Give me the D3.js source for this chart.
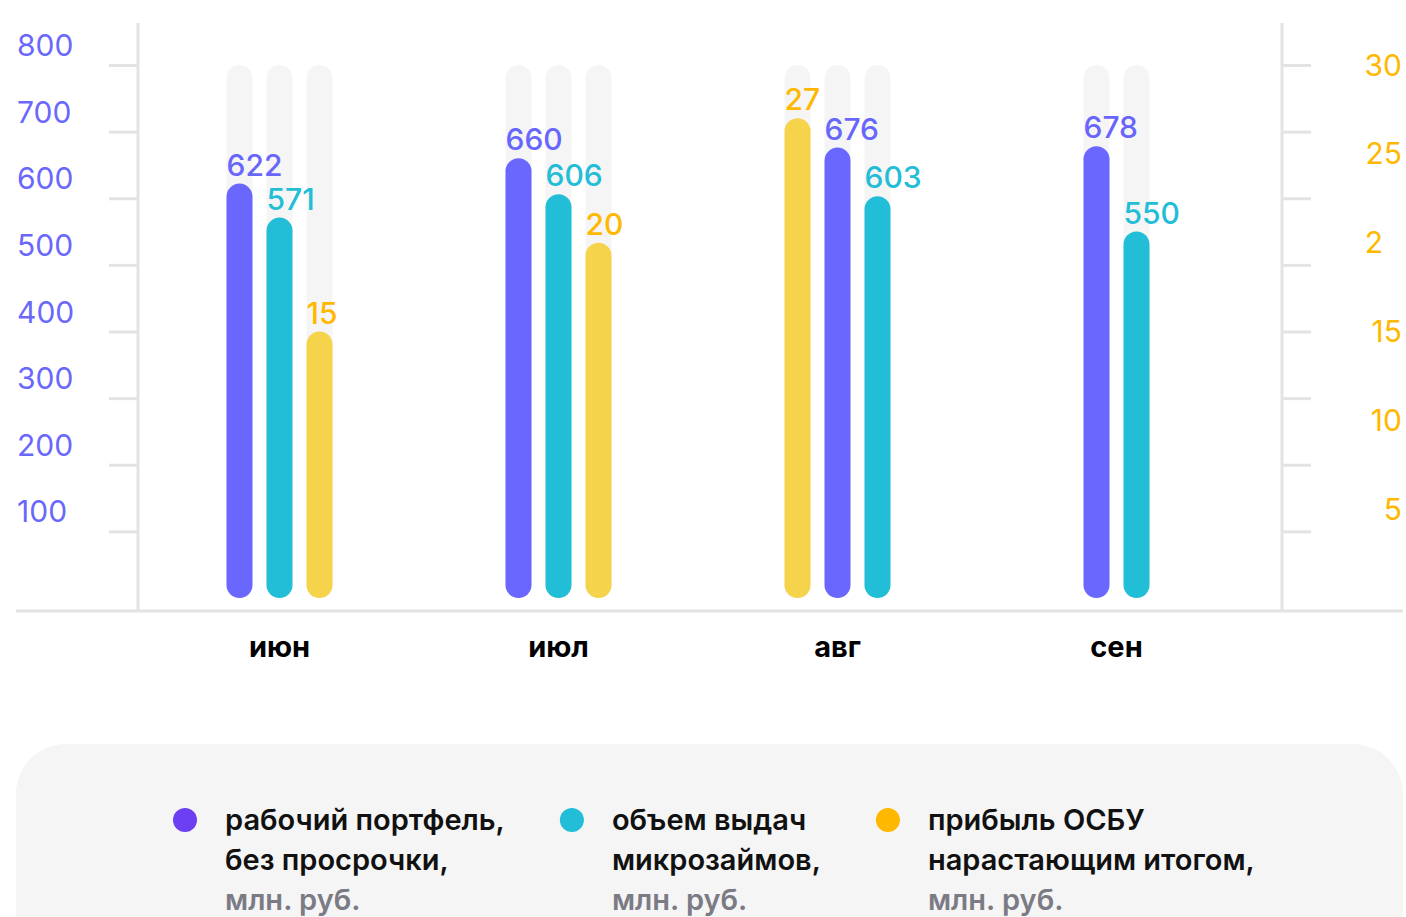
<!DOCTYPE html>
<html>
<head>
<meta charset="utf-8">
<script src="https://cdn.jsdelivr.net/npm/d3@7"></script>
<style>
    body { margin: 0; background: #fff; }
    svg { display: block; font-family: Inter, "Noto Sans", sans-serif; }
</style>
</head>
<body>
<svg id="chart" width="1406" height="917"></svg>
<script>
var months = ["июн", "июл", "авг", "сен"];
var portfolio = [622, 660, 676, 678];
var issuance = [571, 606, 603, 550];
var profit = [15, 20, 27, null];

// order of the bars inside each month
var barOrder = [
    ["portfolio", "issuance", "profit"],
    ["portfolio", "issuance", "profit"],
    ["profit", "portfolio", "issuance"],
    ["portfolio", "issuance"]
];

var leftTicks = [100, 200, 300, 400, 500, 600, 700, 800];
var rightTicks = [5, 10, 15, 20, 25, 30];
var rightTickLabels = ["5", "10", "15", "2", "25", "30"];

var legendNames = [
    ["рабочий портфель,", "без просрочки,"],
    ["объем выдач", "микрозаймов,"],
    ["прибыль ОСБУ", "нарастающим итогом,"]
];
var unitLabel = "млн. руб.";

var svg = d3.select("#chart");

var yLeft = d3.scaleLinear().domain([0, 800]).range([598, 65]);
var yRight = d3.scaleLinear().domain([0, 30]).range([598, 65]);
var x = d3.scaleBand().domain(months).range([140, 1256]);

var series = {
    portfolio: { values: portfolio, y: yLeft, bar: "#6a67ff", text: "#6866fb", dot: "#6c3ff3" },
    issuance: { values: issuance, y: yLeft, bar: "#22bdd6", text: "#22bdd6", dot: "#22bdd6" },
    profit: { values: profit, y: yRight, bar: "#f5d34a", text: "#ffb800", dot: "#ffb800" }
};

var gridColor = "#e3e3e3";
var barWidth = 26,
    barStep = 40;

// frame lines
svg.append("line")
    .attr("x1", 138).attr("x2", 138).attr("y1", 23).attr("y2", 611)
    .attr("stroke", gridColor).attr("stroke-width", 3);
svg.append("line")
    .attr("x1", 1282).attr("x2", 1282).attr("y1", 23).attr("y2", 611)
    .attr("stroke", gridColor).attr("stroke-width", 3);
svg.append("line")
    .attr("x1", 16).attr("x2", 1403).attr("y1", 611).attr("y2", 611)
    .attr("stroke", gridColor).attr("stroke-width", 3);

// left axis
var leftAxis = svg.append("g")
    .attr("transform", "translate(137,0)")
    .call(d3.axisLeft(yLeft).tickValues(leftTicks).tickSize(28));
leftAxis.attr("font-family", null).attr("font-size", 30);
leftAxis.select(".domain").remove();
leftAxis.selectAll(".tick line").attr("stroke", gridColor).attr("stroke-width", 3);
leftAxis.selectAll(".tick text")
    .attr("x", -120)
    .attr("y", -20)
    .attr("dy", "0.35em")
    .attr("text-anchor", "start")
    .attr("fill", "#6a68fb");

// right axis: tick marks follow the left scale, labels the right one
var rightAxis = svg.append("g")
    .attr("transform", "translate(1283,0)")
    .call(d3.axisRight(yLeft).tickValues(leftTicks).tickSize(28).tickFormat(""));
rightAxis.select(".domain").remove();
rightAxis.selectAll(".tick line").attr("stroke", gridColor).attr("stroke-width", 3);

svg.append("g")
    .attr("font-size", 30)
    .attr("fill", "#ffb800")
    .selectAll("text")
    .data(rightTicks)
    .join("text")
    .attr("y", function (d) { return yRight(d); })
    .attr("dy", "0.35em")
    .text(function (d) { return String(d); })
    .each(function (d, i) {
        var w = this.getComputedTextLength();
        d3.select(this).attr("x", 1402 - w).text(rightTickLabels[i]);
    });

// build bar list
var bars = [];
barOrder.forEach(function (order, i) {
    order.forEach(function (key, j) {
        bars.push({
            month: months[i],
            key: key,
            value: series[key].values[i],
            offset: (j - (order.length - 1) / 2) * barStep
        });
    });
});

function barX(d) {
    return x(d.month) + x.bandwidth() / 2 + d.offset - barWidth / 2;
}

// background tracks
svg.append("g")
    .selectAll("rect")
    .data(bars)
    .join("rect")
    .attr("x", barX)
    .attr("y", yLeft(800))
    .attr("width", barWidth)
    .attr("height", yLeft(0) - yLeft(800))
    .attr("rx", barWidth / 2)
    .attr("fill", "#f5f5f5");

// bars
svg.append("g")
    .selectAll("rect")
    .data(bars)
    .join("rect")
    .attr("x", barX)
    .attr("y", function (d) { return series[d.key].y(d.value); })
    .attr("width", barWidth)
    .attr("height", function (d) { return yLeft(0) - series[d.key].y(d.value); })
    .attr("rx", barWidth / 2)
    .attr("fill", function (d) { return series[d.key].bar; });

// value labels
svg.append("g")
    .attr("font-size", 30)
    .attr("font-weight", 500)
    .selectAll("text")
    .data(bars)
    .join("text")
    .attr("x", barX)
    .attr("y", function (d) { return series[d.key].y(d.value) - 8; })
    .attr("fill", function (d) { return series[d.key].text; })
    .text(function (d) { return d.value; });

// month labels
var xAxis = svg.append("g")
    .attr("transform", "translate(0,611)")
    .call(d3.axisBottom(x).tickSize(0));
xAxis.attr("font-family", null).attr("font-size", 29).attr("font-weight", 700);
xAxis.select(".domain").remove();
xAxis.selectAll(".tick text")
    .attr("y", 46)
    .attr("dy", null)
    .attr("fill", "#000");

// legend
var legend = svg.append("g");
legend.append("rect")
    .attr("x", 16).attr("y", 744)
    .attr("width", 1387).attr("height", 260)
    .attr("rx", 50)
    .attr("fill", "#f5f5f5");

var lx = 185;
["portfolio", "issuance", "profit"].forEach(function (key, i) {
    var item = legend.append("g").attr("transform", "translate(" + lx + ",0)");
    item.append("circle")
        .attr("cx", 0).attr("cy", 820).attr("r", 12)
        .attr("fill", series[key].dot);
    var t = item.append("text")
        .attr("font-size", 29)
        .attr("font-weight", 600);
    legendNames[i].forEach(function (line, k) {
        t.append("tspan")
            .attr("x", 40).attr("y", 830 + k * 40)
            .attr("fill", "#111")
            .text(line);
    });
    t.append("tspan")
        .attr("x", 40).attr("y", 910)
        .attr("fill", "#7b7b85")
        .text(unitLabel);
    lx += 40 + t.node().getBBox().width + 67;
});
</script>
</body>
</html>
